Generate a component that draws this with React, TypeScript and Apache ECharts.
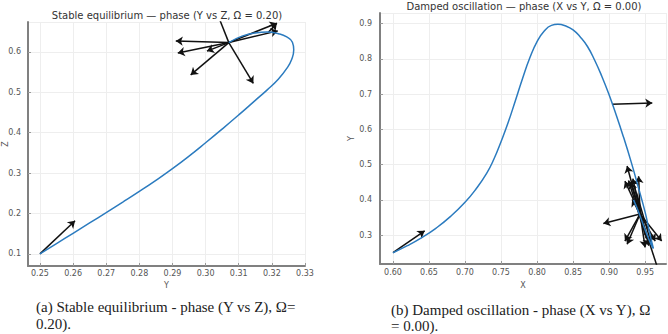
import React, { useEffect, useRef } from "react";
import * as echarts from "echarts";

// Panel (a): Y vs Z
const curveA: [number, number][] = [
  [0.25, 0.1], [0.255, 0.1255], [0.26, 0.151], [0.265, 0.1765], [0.27, 0.202],
  [0.275, 0.228], [0.28, 0.2545], [0.285, 0.282], [0.29, 0.311], [0.295, 0.342],
  [0.3, 0.375], [0.305, 0.409], [0.31, 0.444], [0.315, 0.48], [0.3186, 0.506],
  [0.322, 0.533], [0.3245, 0.559], [0.326, 0.582], [0.3266, 0.605], [0.3262, 0.624],
  [0.3245, 0.637], [0.322, 0.645], [0.3186, 0.649], [0.315, 0.647], [0.311, 0.639],
  [0.307, 0.623],
];
// arrows: [x0, y0, x1, y1]
const arrowsA: [number, number, number, number][] = [
  [0.25, 0.1, 0.2606, 0.182],
  [0.307, 0.623, 0.291, 0.627],
  [0.307, 0.623, 0.2916, 0.597],
  [0.307, 0.623, 0.3004, 0.602],
  [0.307, 0.623, 0.2955, 0.543],
  [0.307, 0.623, 0.3144, 0.522],
  [0.307, 0.623, 0.3031, 0.704],
  [0.307, 0.623, 0.3215, 0.671],
  [0.307, 0.623, 0.3218, 0.652],
  [0.319, 0.649, 0.3215, 0.671],
];

// Panel (b): X vs Y
const curveB: [number, number][] = [
  [0.6, 0.25], [0.62, 0.27], [0.64, 0.293], [0.66, 0.32], [0.68, 0.353],
  [0.7, 0.393], [0.715, 0.43], [0.73, 0.475], [0.74, 0.515], [0.75, 0.565],
  [0.76, 0.62], [0.77, 0.682], [0.78, 0.745], [0.79, 0.803], [0.8, 0.849],
  [0.81, 0.879], [0.82, 0.895], [0.829, 0.898], [0.84, 0.893], [0.85, 0.882],
  [0.86, 0.862], [0.87, 0.835], [0.88, 0.796], [0.89, 0.75], [0.9, 0.698],
  [0.91, 0.64], [0.92, 0.578], [0.93, 0.512], [0.94, 0.44], [0.95, 0.365],
  [0.957, 0.3], [0.9615, 0.262], [0.958, 0.275], [0.95, 0.315], [0.942, 0.36],
  [0.934, 0.4],
];
const arrowsB: [number, number, number, number][] = [
  [0.6, 0.25, 0.644, 0.312],
  [0.904, 0.671, 0.96, 0.675],
  [0.943, 0.36, 0.925, 0.496],
  [0.943, 0.36, 0.922, 0.453],
  [0.943, 0.36, 0.941, 0.467],
  [0.943, 0.36, 0.932, 0.401],
  [0.943, 0.36, 0.892, 0.333],
  [0.943, 0.36, 0.922, 0.283],
  [0.943, 0.36, 0.925, 0.274],
  [0.943, 0.36, 0.95, 0.265],
  [0.943, 0.36, 0.964, 0.283],
  [0.943, 0.36, 0.973, 0.283],
  [0.943, 0.36, 0.97, 0.19],
  [0.952, 0.29, 0.927, 0.455],
  [0.935, 0.44, 0.955, 0.27],
  [0.948, 0.32, 0.93, 0.45],
  [0.938, 0.42, 0.958, 0.28],
  [0.95, 0.3, 0.933, 0.46],
];

const titleA = "Stable equilibrium \u2014 phase (Y vs Z, \u03a9 = 0.20)";
const titleB = "Damped oscillation \u2014 phase (X vs Y, \u03a9 = 0.00)";
const captionA = ["(a) Stable equilibrium - phase (Y vs Z), \u03a9=", "0.20)."];
const captionB = ["(b) Damped oscillation - phase (X vs Y), \u03a9", "= 0.00)."];

const SANS = "DejaVu Sans";
const SERIF = "Liberation Serif";
const BLUE = "#2b7bbf";

function axisCommon(decimals: number) {
  return {
    type: "value" as const,
    nameMoveOverlap: false,
    axisLine: { show: true, lineStyle: { color: "#808080", width: 2 } },
    axisTick: { show: true, inside: true, length: 3, lineStyle: { color: "#999" } },
    splitLine: { show: true, lineStyle: { color: "#eeeeee", width: 1 } },
    axisLabel: {
      fontFamily: SANS,
      fontSize: 8,
      color: "#555",
      showMinLabel: false,
      formatter: (v: number) => v.toFixed(decimals),
    },
    nameTextStyle: { fontFamily: SANS, fontSize: 8, color: "#555" },
  };
}

function arrowData(arr: [number, number, number, number][]) {
  return arr.map((a) => ({ coords: [[a[0], a[1]], [a[2], a[3]]] }));
}

export default function App() {
  const ref = useRef<HTMLDivElement>(null);
  useEffect(() => {
    if (!ref.current) return;
    const chart = echarts.init(ref.current, undefined, { renderer: "svg" });
    const arrowStyle = { color: "#111", width: 1.5, opacity: 1 };
    const capStyle = { textVerticalAlign: "middle", fontFamily: SERIF, fontSize: 15, fill: "#222" };
    chart.setOption({
      animation: false,
      backgroundColor: "#ffffff",
      grid: [
        { left: 28, top: 22, width: 277, height: 244, outerBoundsMode: "none" },
        { left: 380, top: 13, width: 286, height: 251, outerBoundsMode: "none" },
      ],
      xAxis: [
        {
          ...axisCommon(2),
          gridIndex: 0,
          min: 0.2464,
          max: 0.33,
          splitNumber: 8,
          name: "Y",
          nameLocation: "middle",
          nameGap: 15,
          axisLabel: { ...axisCommon(2).axisLabel, margin: 3, showMaxLabel: true },
        },
        {
          ...axisCommon(2),
          gridIndex: 1,
          min: 0.582,
          max: 0.979,
          splitNumber: 8,
          name: "X",
          nameLocation: "middle",
          nameGap: 17,
          axisLabel: { ...axisCommon(2).axisLabel, margin: 4, showMaxLabel: false },
        },
      ],
      yAxis: [
        {
          ...axisCommon(1),
          gridIndex: 0,
          min: 0.07,
          max: 0.674,
          splitNumber: 6,
          name: "Z",
          nameLocation: "middle",
          nameGap: 19,
          axisLabel: { ...axisCommon(1).axisLabel, margin: 7, showMaxLabel: false },
        },
        {
          ...axisCommon(1),
          gridIndex: 1,
          min: 0.218,
          max: 0.93,
          splitNumber: 7,
          name: "Y",
          nameLocation: "middle",
          nameGap: 25,
          axisLabel: { ...axisCommon(1).axisLabel, margin: 8, showMaxLabel: false },
        },
      ],
      series: [
        {
          type: "line",
          xAxisIndex: 0,
          yAxisIndex: 0,
          data: curveA,
          showSymbol: false,
          smooth: 0.5,
          lineStyle: { color: BLUE, width: 1.5 },
          clip: true,
        },
        {
          type: "lines",
          coordinateSystem: "cartesian2d",
          xAxisIndex: 0,
          yAxisIndex: 0,
          data: arrowData(arrowsA),
          symbol: ["none", "arrow"],
          symbolSize: 7,
          lineStyle: arrowStyle,
          clip: true,
          z: 3,
        },
        {
          type: "line",
          xAxisIndex: 1,
          yAxisIndex: 1,
          data: curveB,
          showSymbol: false,
          smooth: 0.5,
          lineStyle: { color: BLUE, width: 1.5 },
          clip: true,
        },
        {
          type: "lines",
          coordinateSystem: "cartesian2d",
          xAxisIndex: 1,
          yAxisIndex: 1,
          data: arrowData(arrowsB),
          symbol: ["none", "arrow"],
          symbolSize: 7,
          lineStyle: arrowStyle,
          clip: true,
          z: 3,
        },
      ],
      graphic: [
        {
          type: "text",
          x: 167,
          y: 15,
          style: { text: titleA, textAlign: "center", textVerticalAlign: "middle", fontFamily: SANS, fontSize: 10, fill: "#333" },
        },
        {
          type: "text",
          x: 524,
          y: 6,
          style: { text: titleB, textAlign: "center", textVerticalAlign: "middle", fontFamily: SANS, fontSize: 10, fill: "#333" },
        },
        { type: "text", x: 36, y: 307, style: { ...capStyle, text: captionA[0] } },
        { type: "text", x: 36, y: 324, style: { ...capStyle, text: captionA[1] } },
        { type: "text", x: 391, y: 310, style: { ...capStyle, text: captionB[0] } },
        { type: "text", x: 391, y: 326, style: { ...capStyle, text: captionB[1] } },
      ],
    });
    return () => chart.dispose();
  }, []);
  return (
    <div
      ref={ref}
      style={{ position: "fixed", left: 0, top: 0, width: 668, height: 334, background: "#fff" }}
    />
  );
}
